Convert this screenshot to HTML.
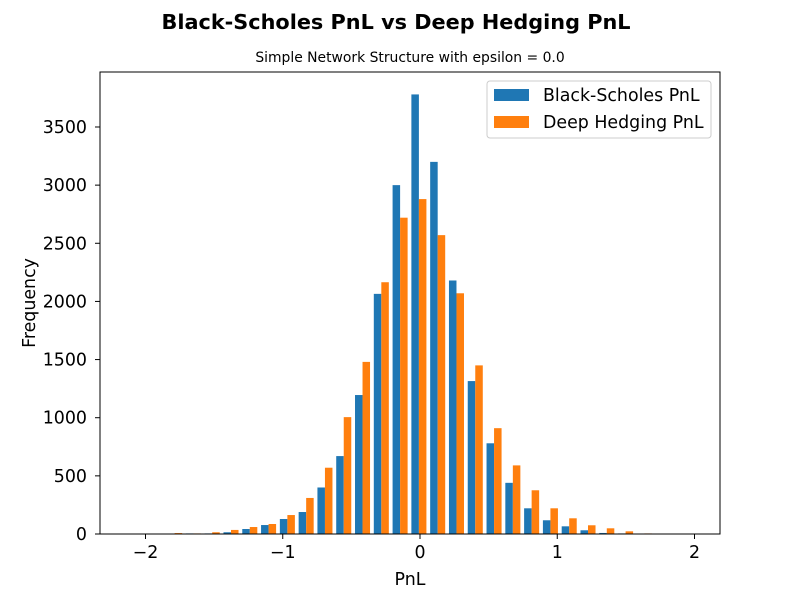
<!DOCTYPE html>
<html><head><meta charset="utf-8"><style>
body{margin:0;background:#fff;}
svg{display:block;font-family:"DejaVu Sans","Liberation Sans",sans-serif;}
</style></head><body>
<svg id="chart" width="800" height="600" viewBox="0 0 800 600">
<text x="396" y="29" text-anchor="middle" font-size="20.8" font-weight="bold">Black-Scholes PnL vs Deep Hedging PnL</text>
<text x="410" y="62" text-anchor="middle" font-size="13.9">Simple Network Structure with epsilon = 0.0</text>
<g id="bars"></g>
<rect x="100" y="72" width="620" height="462" fill="none" stroke="#000" stroke-width="1"/>
<g id="axes"></g>
<text x="410" y="585" text-anchor="middle" font-size="17.4">PnL</text>
<text x="35" y="303" text-anchor="middle" font-size="17.4" transform="rotate(-90 35 303)">Frequency</text>
<g>
<rect x="487" y="81" width="224" height="57" rx="3" fill="#fff" stroke="#ccc"/>
<rect x="494" y="89" width="35" height="12" fill="#1f77b4"/>
<text x="543" y="101" font-size="17.4">Black-Scholes PnL</text>
<rect x="494" y="116" width="35" height="12" fill="#ff7f0e"/>
<text x="543" y="128" font-size="17.4">Deep Hedging PnL</text>
</g>
</svg>
<script>
const binStart = -2.13;
const binWidth = 0.1369;
const bsCounts = [0,0,0,5,5,15,43,77,129,189,400,670,1195,2065,3000,3780,3200,2180,1315,780,440,221,118,66,32,9,5,0,0,0];
const dhCounts = [0,0,8,5,15,35,60,86,163,310,570,1005,1480,2165,2720,2880,2570,2070,1450,910,590,376,221,135,75,49,23,5,0,0];
const xTicks = [-2,-1,0,1,2];
const xTickLabels = ["\u22122","\u22121","0","1","2"];
const yTicks = [0,500,1000,1500,2000,2500,3000,3500];

const NS="http://www.w3.org/2000/svg";
const xs = v => 420 + v*137.25;
const ys = v => 534 - v*0.11629;
const bars=document.getElementById('bars');
function mk(tag,attrs,parent){const e=document.createElementNS(NS,tag);for(const k in attrs)e.setAttribute(k,attrs[k]);parent.appendChild(e);return e;}
for(let i=0;i<bsCounts.length;i++){
  const s=binStart+i*binWidth;
  const b=mk('rect',{x:xs(s+0.1*binWidth),y:ys(bsCounts[i]),width:xs(s+0.5*binWidth)-xs(s+0.1*binWidth),height:534-ys(bsCounts[i]),fill:'#1f77b4'},bars);
  
  
  const o=mk('rect',{x:xs(s+0.5*binWidth),y:ys(dhCounts[i]),width:xs(s+0.9*binWidth)-xs(s+0.5*binWidth),height:534-ys(dhCounts[i]),fill:'#ff7f0e'},bars);
  
  
}
const ax=document.getElementById('axes');
xTicks.forEach((t,i)=>{
  const l=mk('line',{x1:xs(t),x2:xs(t),y1:534,y2:539,stroke:'#000'},ax);
  
  
  const tx=mk('text',{x:xs(t),y:558,'text-anchor':'middle','font-size':'17.4'},ax);
  tx.textContent=xTickLabels[i];
  
  
});
yTicks.forEach(t=>{
  const l=mk('line',{x1:95,x2:100,y1:ys(t),y2:ys(t),stroke:'#000'},ax);
  
  
  const tx=mk('text',{x:87,y:ys(t)+6,'text-anchor':'end','font-size':'17.4'},ax);
  tx.textContent=t;
  
  
});
</script>
</body></html>
